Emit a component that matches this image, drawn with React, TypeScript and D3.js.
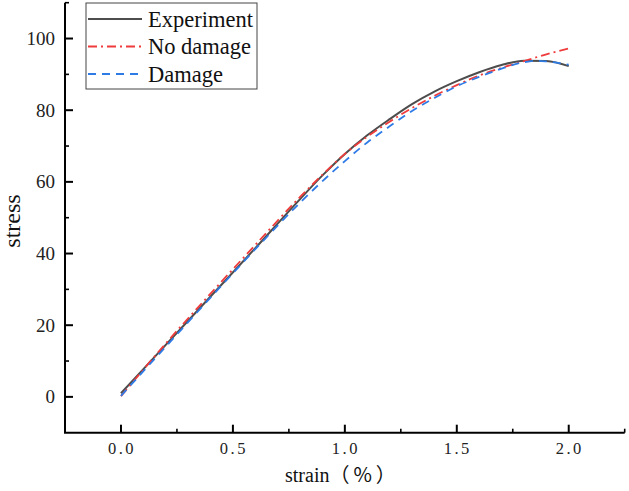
import React from "react";
import * as d3 from "d3";

const expStrain = [0, 0.2, 0.4, 0.6, 0.8, 0.9, 1.0, 1.1, 1.2, 1.3, 1.4, 1.5, 1.6, 1.7, 1.8, 1.9, 2.0];
const expStress = [1, 14.5, 28, 41.5, 55.2, 61.8, 67.8, 73.0, 77.5, 81.7, 85.2, 88.1, 90.6, 92.6, 93.8, 93.7, 92.3];

const noDmgStrain = [0, 0.2, 0.4, 0.6, 0.8, 0.9, 1.0, 1.1, 1.2, 1.3, 1.4, 1.5, 1.6, 1.7, 1.8, 1.9, 2.0];
const noDmgStress = [0.2, 14.9, 28.8, 42.4, 55.8, 62.0, 67.8, 72.6, 76.8, 80.6, 84.0, 87.0, 89.7, 91.8, 93.7, 95.6, 97.2];

const dmgStrain = [0, 0.2, 0.4, 0.6, 0.8, 0.9, 1.0, 1.1, 1.2, 1.3, 1.4, 1.5, 1.6, 1.7, 1.8, 1.85, 1.9, 2.0];
const dmgStress = [0.3, 14, 27.7, 41.2, 54.2, 60.2, 65.8, 71, 75.5, 79.8, 83.4, 86.7, 89.3, 91.6, 93.4, 93.8, 93.6, 92.7];

const seriesNames = ["Experiment", "No damage", "Damage"];
const xMajorTicks = [0, 0.5, 1.0, 1.5, 2.0];
const xMinorTicks = [0.25, 0.75, 1.25, 1.75, 2.25];
const yMajorTicks = [0, 20, 40, 60, 80, 100];
const yMinorTicks = [10, 30, 50, 70, 90, 110];

const W = 629;
const H = 491;
const left = 65;
const right = 624.7;
const top = 2.7;
const bottom = 432.7;

export default function App() {
  const x = d3.scaleLinear().domain([-0.25, 2.25]).range([left, right]);
  const y = d3.scaleLinear().domain([-10, 110]).range([bottom, top]);

  const line = d3
    .line<[number, number]>()
    .x((d) => x(d[0]))
    .y((d) => y(d[1]))
    .curve(d3.curveMonotoneX);

  const zip = (a: number[], b: number[]) => a.map((v, i) => [v, b[i]] as [number, number]);

  const series = [
    { name: seriesNames[0], d: zip(expStrain, expStress), color: "#4d4d4d", dash: "none", w: 2 },
    { name: seriesNames[1], d: zip(noDmgStrain, noDmgStress), color: "#ef3b3b", dash: "9,4,2,4", w: 1.8 },
    { name: seriesNames[2], d: zip(dmgStrain, dmgStress), color: "#2f7be6", dash: "8,6", w: 1.8 },
  ];

  const serif = "'Liberation Serif', 'Times New Roman', serif";
  const cjk = "'Noto Sans CJK SC', sans-serif";

  return (
    <svg
      width={W}
      height={H}
      style={{ position: "absolute", left: 0, top: 0, background: "#fff" }}
      fontFamily={serif}
    >
      <rect x={0} y={0} width={W} height={H} fill="#fff" />
      {series.map((s) => (
        <path
          key={s.name}
          d={line(s.d) || ""}
          fill="none"
          stroke={s.color}
          strokeWidth={s.w}
          strokeDasharray={s.dash}
        />
      ))}

      <line x1={left} x2={left} y1={top} y2={bottom} stroke="#000" strokeWidth={2} />
      <line x1={left - 1} x2={right} y1={bottom} y2={bottom} stroke="#000" strokeWidth={2} />
      {xMajorTicks.map((t) => (
        <g key={"xM" + t}>
          <line x1={x(t)} x2={x(t)} y1={bottom} y2={bottom - 8} stroke="#000" strokeWidth={2} />
          <text
            x={x(t) + 1}
            y={453.5}
            fontSize={16.5}
            textAnchor="middle"
            letterSpacing={2.5}
            fill="#222"
          >
            {t.toFixed(1)}
          </text>
        </g>
      ))}
      {xMinorTicks.map((t) => (
        <line key={"xm" + t} x1={x(t)} x2={x(t)} y1={bottom} y2={bottom - 4} stroke="#000" strokeWidth={1.6} />
      ))}
      {yMajorTicks.map((t) => (
        <g key={"yM" + t}>
          <line x1={left} x2={left + 8} y1={y(t)} y2={y(t)} stroke="#000" strokeWidth={2} />
          <text x={55} y={y(t) + 6.5} fontSize={19} textAnchor="end" fill="#222">
            {t}
          </text>
        </g>
      ))}
      {yMinorTicks.map((t) => (
        <line key={"ym" + t} x1={left} x2={left + 4} y1={y(t)} y2={y(t)} stroke="#000" strokeWidth={1.6} />
      ))}

      <text
        transform={`translate(19.5, 221) rotate(-90)`}
        fontSize={24}
        textAnchor="middle"
        fill="#111"
      >
        stress
      </text>
      <text x={285} y={481.5} fontSize={20} fill="#111">
        strain
        <tspan fontFamily={cjk} letterSpacing={4}>（%）</tspan>
      </text>

      <rect x={86} y={3} width={171} height={86} fill="#fff" stroke="#444" strokeWidth={1} />
      {series.map((s, i) => {
        const base = 26.7 + i * 27.5;
        return (
          <g key={"lg" + s.name}>
            <line
              x1={88}
              x2={142}
              y1={base - 7.7}
              y2={base - 7.7}
              stroke={s.color}
              strokeWidth={s.w}
              strokeDasharray={s.dash}
            />
            <text x={148} y={base} fontSize={22.5} fill="#111">
              {s.name}
            </text>
          </g>
        );
      })}
    </svg>
  );
}
